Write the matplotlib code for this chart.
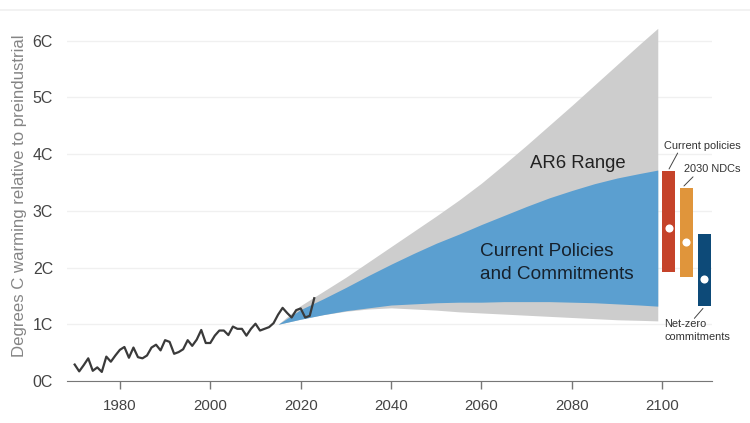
import matplotlib
matplotlib.use("Agg")
import matplotlib.pyplot as plt
from matplotlib.lines import Line2D

plt.rcParams['font.family'] = ['Liberation Sans', 'DejaVu Sans']

# observed warming
hist_years = list(range(1970, 2024))
hist_temp = [0.29, 0.17, 0.28, 0.40, 0.18, 0.24, 0.16, 0.43, 0.34, 0.45,
             0.55, 0.60, 0.41, 0.59, 0.42, 0.40, 0.45, 0.59, 0.64, 0.54,
             0.72, 0.69, 0.48, 0.51, 0.56, 0.72, 0.62, 0.73, 0.90, 0.67,
             0.67, 0.80, 0.89, 0.89, 0.81, 0.96, 0.92, 0.92, 0.80, 0.92,
             1.01, 0.89, 0.92, 0.95, 1.02, 1.17, 1.29, 1.20, 1.12, 1.25,
             1.28, 1.12, 1.15, 1.46]

# scenario ranges
range_years = [2015, 2020, 2025, 2030, 2035, 2040, 2045, 2050, 2055, 2060,
               2065, 2070, 2075, 2080, 2085, 2090, 2095, 2099]
ar6_high = [1.00, 1.33, 1.58, 1.83, 2.10, 2.37, 2.64, 2.91, 3.19, 3.49,
            3.82, 4.16, 4.51, 4.86, 5.22, 5.58, 5.94, 6.22]
ar6_low = [1.00, 1.09, 1.17, 1.23, 1.27, 1.29, 1.27, 1.25, 1.22, 1.20,
           1.18, 1.16, 1.14, 1.12, 1.10, 1.08, 1.07, 1.06]
policy_high = [1.00, 1.26, 1.45, 1.65, 1.86, 2.06, 2.25, 2.43, 2.59, 2.76,
               2.92, 3.08, 3.23, 3.36, 3.48, 3.58, 3.66, 3.72]
policy_low = [1.00, 1.09, 1.17, 1.24, 1.29, 1.34, 1.36, 1.38, 1.39, 1.39,
              1.40, 1.40, 1.40, 1.39, 1.38, 1.36, 1.34, 1.32]

# end of century bars
bar_years = [2101.4, 2105.3, 2109.3]
bar_low = [1.92, 1.83, 1.32]
bar_high = [3.70, 3.40, 2.60]
bar_mid = [2.70, 2.45, 1.80]
bar_colors = ['#c5432a', '#e0953b', '#0d4a78']

y_ticks = [0, 1, 2, 3, 4, 5, 6]
y_labels = ['0C', '1C', '2C', '3C', '4C', '5C', '6C']
x_ticks = [1980, 2000, 2020, 2040, 2060, 2080, 2100]

fig = plt.figure(figsize=(7.5, 4.23), dpi=100)
ax = fig.add_axes([67 / 750, 1 - 381 / 423, 645 / 750, 371 / 423])
ax.set_xlim(1968.3, 2111)
ax.set_ylim(0, 371 / 56.7)

ax.fill_between(range_years, ar6_low, ar6_high, color='#cdcdcd', lw=0, zorder=2)
ax.fill_between(range_years, policy_low, policy_high, color='#5b9fd0', lw=0, zorder=3)
ax.plot(hist_years, hist_temp, color='#3a3a3a', lw=1.6, zorder=4)

ax.bar(bar_years, [h - l for h, l in zip(bar_high, bar_low)], bottom=bar_low,
       width=2.9, color=bar_colors, zorder=4)
ax.scatter(bar_years, bar_mid, s=34, color='white', lw=0, zorder=5)

ax.set_yticks(y_ticks)
ax.set_yticklabels(y_labels)
ax.set_xticks(x_ticks)
ax.grid(axis='y', color='#f0f0f0', lw=1)
ax.set_axisbelow(True)
ax.tick_params(axis='y', length=0, labelsize=11.5, labelcolor='#444444', pad=10)
ax.tick_params(axis='x', length=6, width=1, color='#777777', labelsize=10.8,
               labelcolor='#444444', pad=7)
for side in ['top', 'left', 'right']:
    ax.spines[side].set_visible(False)
ax.spines['bottom'].set_color('#777777')

fig.text(20 / 750, 1 - 196 / 423, 'Degrees C warming relative to preindustrial',
         rotation=90, fontsize=12.1, color='#858585', ha='center', va='center')

ax.text(2070.7, 3.84, 'AR6 Range', fontsize=13.3, color='#222222', va='center')
ax.text(2059.6, 2.28, 'Current Policies', fontsize=13.7, color='#16212c', va='center')
ax.text(2059.6, 1.88, 'and Commitments', fontsize=13.7, color='#16212c', va='center')

ax.text(2100.4, 4.14, 'Current policies', fontsize=7.9, color='#333333', va='center')
ax.text(2104.9, 3.74, '2030 NDCs', fontsize=7.9, color='#333333', va='center')
ax.text(2100.4, 1.01, 'Net-zero', fontsize=7.9, color='#333333', va='center')
ax.text(2100.4, 0.78, 'commitments', fontsize=7.9, color='#333333', va='center')

# leader lines from the labels to the bars
ax.annotate('', xy=(2101.5, 3.74), xytext=(2103.4, 4.02),
            arrowprops=dict(arrowstyle='-', color='#444444', lw=0.7, shrinkA=0, shrinkB=0))
ax.annotate('', xy=(2104.8, 3.44), xytext=(2106.8, 3.60),
            arrowprops=dict(arrowstyle='-', color='#444444', lw=0.7, shrinkA=0, shrinkB=0))
ax.annotate('', xy=(2109.0, 1.28), xytext=(2107.1, 1.105),
            arrowprops=dict(arrowstyle='-', color='#444444', lw=0.7, shrinkA=0, shrinkB=0))

# faint rule along the top of the page
fig.add_artist(Line2D([0, 1], [1 - 10 / 423, 1 - 10 / 423], color='#f0f0f0', lw=1.2))

fig.savefig('out.png', dpi=100)
